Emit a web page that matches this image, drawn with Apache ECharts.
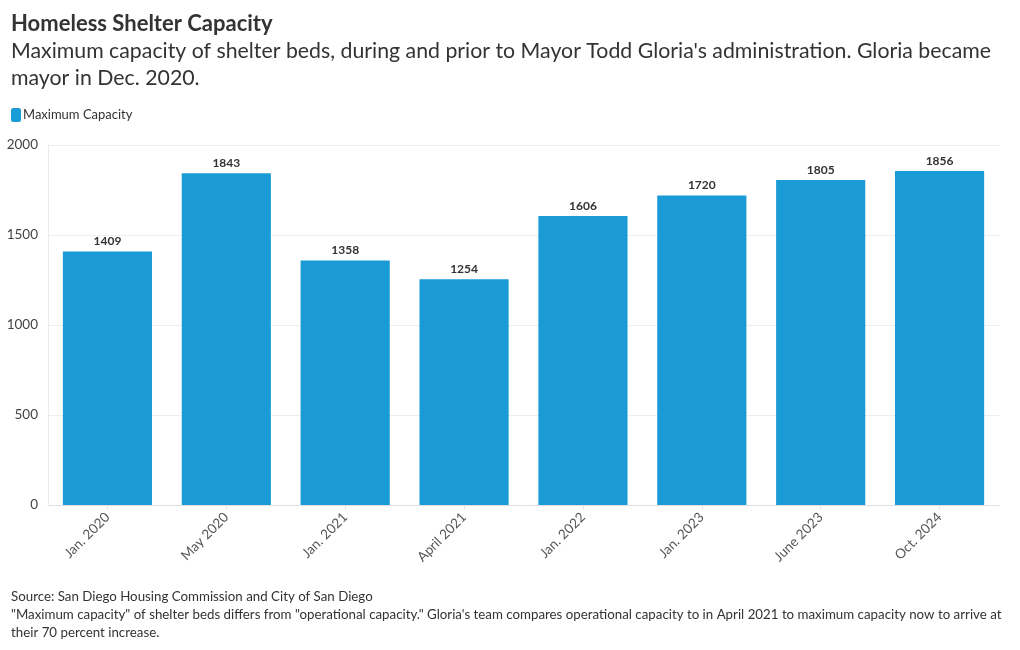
<!DOCTYPE html>
<html>
<head>
<meta charset="utf-8">
<script src="https://cdn.jsdelivr.net/npm/echarts@6/dist/echarts.min.js"></script>
<style>html,body{margin:0;padding:0;background:#fff;}#c{width:1020px;height:650px;}</style>
</head>
<body>
<div id="c"></div>
<script>
const categories = ['Jan. 2020','May 2020','Jan. 2021','April 2021','Jan. 2022','Jan. 2023','June 2023','Oct. 2024'];
const maxCapacity = [1409,1843,1358,1254,1606,1720,1805,1856];
const yTicks = [0,500,1000,1500,2000];

const FONT = 'Lato';
const chart = echarts.init(document.getElementById('c'));
chart.setOption({
  backgroundColor: '#fff',
  animation: false,
  textStyle: { fontFamily: FONT },
  title: [
    { text: 'Homeless Shelter Capacity', left: 11, top: 13, padding: 0,
      textStyle: { fontFamily: FONT, fontSize: 22, fontWeight: 'bold', color: '#333' } },
    { text: "Maximum capacity of shelter beds, during and prior to Mayor Todd Gloria's administration. Gloria became\nmayor in Dec. 2020.",
      left: 11, top: 38, padding: 0,
      textStyle: { fontFamily: FONT, fontSize: 21.3, fontWeight: 'normal', color: '#333', lineHeight: 27 } },
    { text: 'Source: San Diego Housing Commission and City of San Diego\n"Maximum capacity" of shelter beds differs from "operational capacity." Gloria\'s team compares operational capacity to in April 2021 to maximum capacity now to arrive at\ntheir 70 percent increase.',
      left: 11, top: 588, padding: 0,
      textStyle: { fontFamily: FONT, fontSize: 13.3, fontWeight: 'normal', color: '#333', lineHeight: 18 } }
  ],
  legend: {
    left: 11, top: 108, itemWidth: 10, itemHeight: 14, itemGap: 4, padding: 0,
    icon: 'roundRect',
    textStyle: { fontFamily: FONT, fontSize: 13, color: '#333', padding: [0,0,0,-3] },
    data: ['Maximum Capacity']
  },
  grid: { left: 48, right: 21, top: 145, bottom: 145 },
  xAxis: {
    type: 'category', data: categories,
    axisLine: { lineStyle: { color: '#e0e0e0' } },
    axisTick: { show: true, alignWithLabel: true, length: 4, lineStyle: { color: '#e0e0e0' } },
    axisLabel: { rotate: 45, fontSize: 13.5, color: '#555', margin: 10, fontFamily: FONT },
    splitLine: { show: false }
  },
  yAxis: {
    type: 'value', min: 0, max: 2000, interval: 500,
    axisLine: { show: true, lineStyle: { color: '#eaeaea' } },
    axisTick: { show: false },
    axisLabel: { fontSize: 13.5, color: '#444', margin: 10, fontFamily: FONT,
      formatter: v => yTicks.includes(v) ? String(v) : '' },
    splitLine: { lineStyle: { color: '#eeeeee' } }
  },
  series: [{
    name: 'Maximum Capacity', type: 'bar', data: maxCapacity,
    barWidth: '75%',
    itemStyle: { color: '#1a9bd6' },
    label: { show: true, position: 'top', distance: 4, fontSize: 12, fontWeight: 'bold', color: '#333', fontFamily: FONT }
  }]
});
</script>
</body>
</html>
